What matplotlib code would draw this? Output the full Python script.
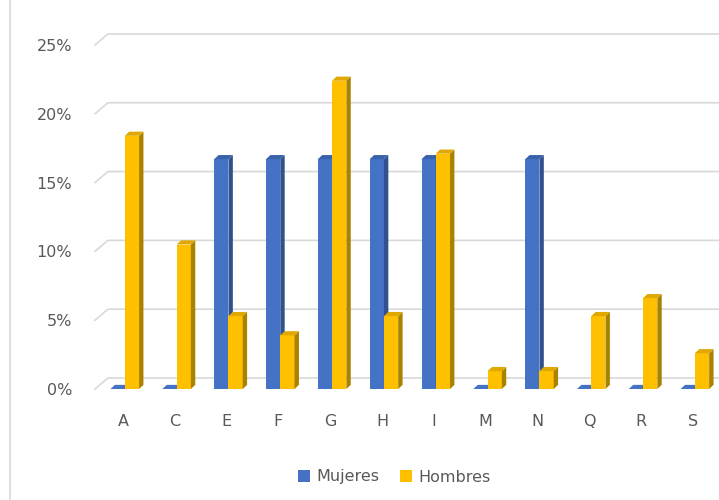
import numpy as np
import matplotlib.pyplot as plt
from matplotlib.patches import Polygon, Patch
from matplotlib.lines import Line2D

# Sector shares by sex (percent)
categories = ['A', 'C', 'E', 'F', 'G', 'H', 'I', 'M', 'N', 'Q', 'R', 'S']
mujeres = [0, 0, 16.7, 16.7, 16.7, 16.7, 16.7, 0, 16.7, 0, 0, 0]
hombres = [18.4, 10.5, 5.3, 3.9, 22.4, 5.3, 17.1, 1.3, 1.3, 5.3, 6.6, 2.6]
yticks = [0, 5, 10, 15, 20, 25]
ytick_labels = ['0%', '5%', '10%', '15%', '20%', '25%']

series = [
    ('Mujeres', mujeres, '#4472C4', '#2F528F', '#3A62AA'),
    ('Hombres', hombres, '#FFC000', '#A98200', '#E0A800'),
]

bar_w = 0.275
shift = 0.035     # clusters sit slightly right of the tick
depth_x = 0.085   # side face width (category units)
depth_y = 0.3     # top face rise (percent units)
grid_dy = 0.8     # back wall offset for gridlines

fig = plt.figure(figsize=(7.19, 5.0), dpi=100)
ax = fig.add_axes([0.135, 0.222, 0.865, 0.7156])
ax.set_xlim(-0.5, 11.5)
ax.set_ylim(0, 26)

# gridlines on the back wall with a short diagonal at the left edge
for v in yticks:
    ax.plot([-0.54, -0.29, 11.6], [v, v + grid_dy, v + grid_dy],
            color='#D9D9D9', lw=1.2, zorder=0, clip_on=False)

x = np.arange(len(categories))
for i, (name, vals, face, side, top) in enumerate(series):
    offs = (i - 0.5) * bar_w + shift
    for xi, v in zip(x, vals):
        left = xi + offs - bar_w / 2
        right = left + bar_w
        z = 2 + i * 0.1 + xi * 0.01
        if v > 0:
            ax.add_patch(Polygon([(left, 0), (right, 0), (right, v), (left, v)],
                                 closed=True, facecolor=face, edgecolor='none', zorder=z))
            ax.add_patch(Polygon([(right, 0), (right + depth_x, depth_y),
                                  (right + depth_x, v + depth_y), (right, v)],
                                 closed=True, facecolor=side, edgecolor='none', zorder=z))
        ax.add_patch(Polygon([(left, v), (right, v), (right + depth_x, v + depth_y),
                              (left + depth_x, v + depth_y)],
                             closed=True, facecolor=top if v > 0 else face,
                             edgecolor='none', zorder=z + 0.001))

ax.set_xticks(x)
ax.set_xticklabels(categories)
ax.set_yticks(yticks)
ax.set_yticklabels(ytick_labels)
ax.tick_params(axis='both', length=0, labelsize=11.5, labelcolor='#595959')
ax.tick_params(axis='y', pad=18)
ax.tick_params(axis='x', pad=18)
for s in ax.spines.values():
    s.set_visible(False)

handles = [Patch(facecolor=c[2], label=c[0]) for c in series]
fig.legend(handles=handles, loc='center', bbox_to_anchor=(394 / 719, 1 - 477 / 500),
           ncol=2, frameon=False, fontsize=11.5, handlelength=0.75, handleheight=0.75,
           handletextpad=0.4, columnspacing=1.3, labelcolor='#595959')

fig.add_artist(Line2D([10 / 719, 10 / 719], [0, 1], color='#D9D9D9', lw=1.2,
                      transform=fig.transFigure))

fig.savefig('out.png', dpi=100)
